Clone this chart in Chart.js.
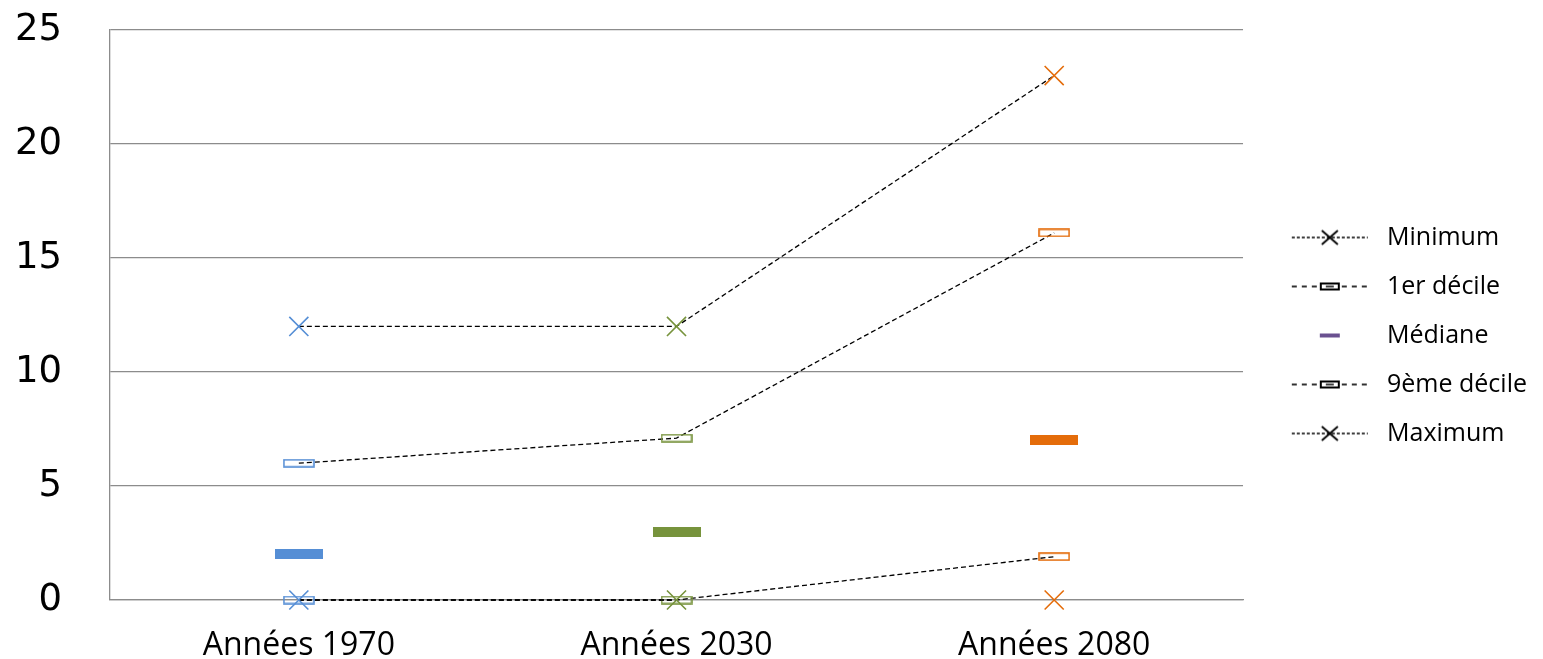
<!DOCTYPE html>
<html>
<head>
<meta charset="utf-8">
<script src="https://cdn.jsdelivr.net/npm/chart.js@4.4.1/dist/chart.umd.min.js"></script>
<style>
html,body{margin:0;padding:0;background:#fff;}
#wrap{width:1543px;height:659px;position:relative;}
</style>
</head>
<body>
<div id="wrap"><canvas id="c" width="1543" height="659"></canvas></div>
<script>
const categories = ['Années 1970', 'Années 2030', 'Années 2080'];
const minimumValues = [0, 0, 0];
const decile1Values = [0, 0, 1.9];
const medianeValues = [2, 3, 7];
const decile9Values = [6, 7.1, 16.1];
const maximumValues = [12, 12, 23];
const seriesNames = ['Minimum', '1er décile', 'Médiane', '9ème décile', 'Maximum'];
const yTicks = [0, 5, 10, 15, 20, 25];
const pointColors = ['#558ED5', '#77933C', '#E46C0A'];

function makeCanvas(w, h, draw) {
  const c = document.createElement('canvas');
  c.width = w; c.height = h;
  draw(c.getContext('2d'), w, h);
  return c;
}
const hollowRect = col => makeCanvas(32, 9, (g, w, h) => {
  g.strokeStyle = col; g.lineWidth = 1.6; g.strokeRect(1, 1, w - 2, h - 2);
});
const filledBar = col => makeCanvas(48, 10, (g, w, h) => {
  g.fillStyle = col; g.fillRect(0, 0, w, h);
});
const decileStyles = pointColors.map(hollowRect);
const medianStyles = pointColors.map(filledBar);

// legend symbol: transparent canvas, visible part from x0 to x1
function legendImg(kind) {
  return makeCanvas(96, 22, (g, w, h) => {
    const x0 = 19, x1 = 95, cx = (x0 + x1) / 2, cy = h / 2;
    if (kind !== 'bar') {
      g.strokeStyle = '#000'; g.lineWidth = 1.6;
      g.setLineDash(kind === 'x' ? [3, 2] : [5, 5]);
      g.beginPath(); g.moveTo(x0, cy); g.lineTo(x1, cy); g.stroke();
      g.setLineDash([]);
    }
    if (kind === 'x') {
      g.lineWidth = 1.8;
      g.beginPath();
      g.moveTo(cx - 8, cy - 7); g.lineTo(cx + 8, cy + 7);
      g.moveTo(cx + 8, cy - 7); g.lineTo(cx - 8, cy + 7);
      g.stroke();
    } else if (kind === 'rect') {
      g.fillStyle = '#fff'; g.fillRect(cx - 9, cy - 3, 18, 6);
      g.strokeStyle = '#000'; g.lineWidth = 2; g.strokeRect(cx - 9, cy - 3, 18, 6);
      g.fillStyle = '#000'; g.fillRect(cx - 4, cy - 0.75, 8, 1.5);
    } else {
      g.fillStyle = '#6A5190'; g.fillRect(cx - 10, cy - 2, 20, 4);
    }
  });
}
const legendImages = [legendImg('x'), legendImg('rect'), legendImg('bar'), legendImg('rect'), legendImg('x')];

const lineBase = {
  borderColor: '#000',
  borderWidth: 1.3,
  borderDash: [5, 3],
  fill: false,
  tension: 0,
  clip: false,
  pointBorderColor: pointColors,
  pointBackgroundColor: 'rgba(0,0,0,0)',
  pointBorderWidth: 1.6
};

const data = {
  labels: categories,
  datasets: [
    Object.assign({}, lineBase, {
      label: seriesNames[0], data: minimumValues,
      pointStyle: 'crossRot', pointRadius: 13.5,
      segment: { borderColor: ctx => ctx.p0DataIndex === 1 ? 'rgba(0,0,0,0)' : '#000' }
    }),
    Object.assign({}, lineBase, {
      label: seriesNames[1], data: decile1Values,
      pointStyle: decileStyles, pointRadius: 6
    }),
    {
      label: seriesNames[2], data: medianeValues, showLine: false, clip: false,
      pointStyle: medianStyles, pointRadius: 6,
      borderColor: pointColors, backgroundColor: pointColors
    },
    Object.assign({}, lineBase, {
      label: seriesNames[3], data: decile9Values,
      pointStyle: decileStyles, pointRadius: 6
    }),
    Object.assign({}, lineBase, {
      label: seriesNames[4], data: maximumValues,
      pointStyle: 'crossRot', pointRadius: 13.5
    })
  ]
};

new Chart(document.getElementById('c'), {
  type: 'line',
  data: data,
  options: {
    responsive: false,
    animation: false,
    events: [],
    layout: { padding: { top: 12, right: 6, left: 0, bottom: 0 } },
    plugins: {
      tooltip: { enabled: false },
      legend: {
        position: 'right',
        labels: {
          usePointStyle: true,
          pointStyleWidth: 107.5,
          padding: 24,
          color: '#000',
          font: { family: 'Open Sans', size: 25 },
          generateLabels: chart => chart.data.datasets.map((ds, i) => ({
            text: ds.label,
            pointStyle: legendImages[i],
            fillStyle: '#000',
            strokeStyle: '#000',
            lineWidth: 0,
            hidden: false,
            datasetIndex: i,
            fontColor: '#000'
          }))
        }
      }
    },
    scales: {
      x: {
        type: 'category',
        offset: true,
        grid: { display: false, drawTicks: false },
        border: { display: true, color: '#8C8C8C', width: 1.3 },
        afterFit: axis => { axis.height = 59; },
        ticks: {
          padding: 27,
          color: '#000',
          font: { family: 'Open Sans', size: 32 }
        }
      },
      y: {
        min: 0, max: 25,
        afterBuildTicks: axis => { axis.ticks = yTicks.map(v => ({ value: v })); },
        afterFit: axis => { axis.width = 110; axis.paddingTop = 30; axis.paddingBottom = 0; },
        grid: { color: '#8C8C8C', lineWidth: 1.3, drawTicks: false },
        border: { display: true, color: '#8C8C8C', width: 1.3 },
        ticks: {
          padding: 48,
          color: '#000',
          font: { family: 'DejaVu Sans', size: 37 }
        }
      }
    }
  }
});
</script>
</body>
</html>
